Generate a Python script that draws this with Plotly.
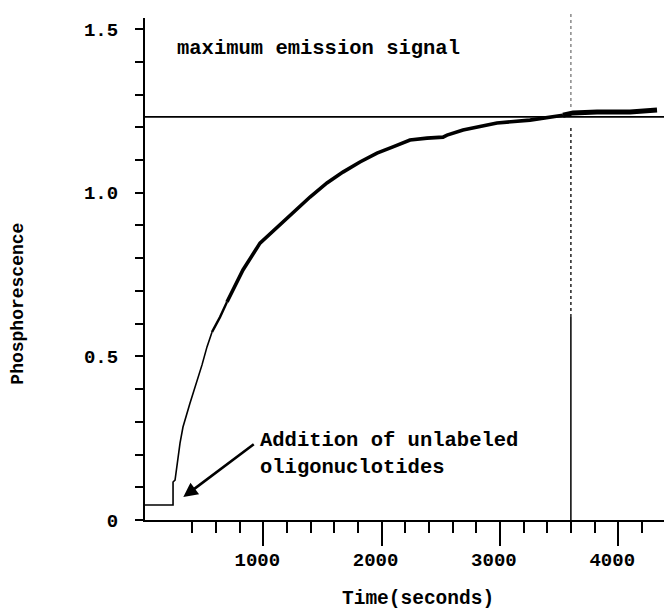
import plotly.graph_objects as go

# ---- data ----
time_s = [0, 237, 237, 254, 296, 321, 380, 423, 482, 524, 566, 634, 693,
          761, 828, 972, 1116, 1251, 1395, 1538, 1673, 1817, 1961, 2096,
          2240, 2384, 2519, 2553, 2688, 2975, 3254, 3533, 3618, 3821, 4100, 4328]
phosphorescence = [0.046, 0.046, 0.116, 0.122, 0.235, 0.284, 0.357, 0.406, 0.474,
                   0.529, 0.574, 0.620, 0.666, 0.718, 0.764, 0.846, 0.895, 0.941,
                   0.987, 1.030, 1.063, 1.094, 1.121, 1.140, 1.161, 1.167, 1.170,
                   1.176, 1.192, 1.213, 1.222, 1.237, 1.244, 1.247, 1.247, 1.253]

max_signal = 1.232          # "maximum emission signal" level
event_time = 3600           # vertical marker
addition_time = 324         # arrow tip: addition of unlabeled oligonucleotides
addition_level = 0.070

x_major = [1000, 2000, 3000, 4000]
x_major_text = ["1000", "2000", "3000", "4000"]
x_minor = [400, 600, 800, 1200, 1400, 1600, 1800, 2200, 2400, 2600, 2800,
           3200, 3400, 3600, 3800, 4200]
y_major = [0, 0.5, 1.0, 1.5]
y_major_text = ["0", "0.5", "1.0", "1.5"]
y_minor = [0.1, 0.2, 0.3, 0.4, 0.6, 0.7, 0.8, 0.9, 1.1, 1.2, 1.3, 1.4]

FONT = "Liberation Mono"

fig = go.Figure()

# thin early rise, thicker noisy plateau, thickest end
i0 = time_s.index(566)
i1 = time_s.index(693)
i2 = time_s.index(3533)
fig.add_trace(go.Scatter(x=time_s[:i0 + 1], y=phosphorescence[:i0 + 1], mode="lines",
                         line=dict(color="black", width=1.6), showlegend=False))
fig.add_trace(go.Scatter(x=time_s[i0:i1 + 1], y=phosphorescence[i0:i1 + 1], mode="lines",
                         line=dict(color="black", width=2.4), showlegend=False))
fig.add_trace(go.Scatter(x=time_s[i1:i2 + 1], y=phosphorescence[i1:i2 + 1], mode="lines",
                         line=dict(color="black", width=3.6), showlegend=False))
fig.add_trace(go.Scatter(x=time_s[i2:], y=phosphorescence[i2:], mode="lines",
                         line=dict(color="black", width=5), showlegend=False))

# maximum emission level line
fig.add_shape(type="line", xref="x", yref="y", x0=0, x1=4387, y0=max_signal, y1=max_signal,
              line=dict(color="black", width=1.6))
# vertical marker at event_time
fig.add_shape(type="line", xref="x", yref="y", x0=event_time, x1=event_time, y0=0, y1=0.62,
              line=dict(color="black", width=1.5))
fig.add_shape(type="line", xref="x", yref="y", x0=event_time, x1=event_time, y0=0.62, y1=1.2,
              line=dict(color="#222222", width=1.5, dash="dot"))
fig.add_shape(type="line", xref="x", yref="paper", x0=event_time, x1=event_time,
              y0=(max_signal + 0.03) / 1.534, y1=1.012,
              line=dict(color="#777777", width=1.3, dash="dot"))

# annotations
fig.add_annotation(x=254, y=1.442, xref="x", yref="y", text="maximum emission signal",
                   showarrow=False, xanchor="left", yanchor="middle",
                   font=dict(family=FONT, size=20.5, color="black", weight="bold"))
fig.add_annotation(x=955, y=0.202, xref="x", yref="y",
                   text="Addition of unlabeled<br>oligonuclotides",
                   showarrow=False, xanchor="left", yanchor="middle", align="left",
                   font=dict(family=FONT, size=20.5, color="black", weight="bold"))
fig.add_annotation(x=addition_time, y=addition_level, xref="x", yref="y",
                   ax=932, ay=0.235, axref="x", ayref="y", text="",
                   showarrow=True, arrowhead=2, arrowsize=1.1, arrowwidth=2.6,
                   arrowcolor="black")
fig.add_annotation(x=-0.2437, y=0.430, xref="paper", yref="paper", text="Phosphorescence",
                   textangle=-90, showarrow=False, xanchor="center", yanchor="middle",
                   font=dict(family=FONT, size=18, color="black", weight="bold"))
fig.add_annotation(x=0.526, y=-0.158, xref="paper", yref="paper", text="Time(seconds)",
                   showarrow=False, xanchor="center", yanchor="middle",
                   font=dict(family=FONT, size=19.5, color="black", weight="bold"))

fig.update_layout(
    width=664, height=611,
    margin=dict(l=145, r=0, t=18, b=91),
    paper_bgcolor="white", plot_bgcolor="white",
    showlegend=False,
    xaxis=dict(range=[0, 4387], showgrid=False, zeroline=False,
               showline=True, linecolor="black", linewidth=2,
               ticks="outside", tickvals=x_major, ticktext=x_major_text,
               ticklen=24, tickwidth=2, tickcolor="black",
               ticklabelstandoff=-3, ticklabelshift=-6,
               tickfont=dict(family=FONT, size=19, color="black", weight="bold"),
               minor=dict(tickvals=x_minor, ticks="outside", ticklen=11, tickwidth=1.5,
                          tickcolor="black", showgrid=False)),
    yaxis=dict(range=[0, 1.534], showgrid=False, zeroline=False,
               showline=True, linecolor="black", linewidth=2,
               ticks="outside", tickvals=y_major, ticktext=y_major_text,
               ticklen=8, tickwidth=1.5, tickcolor="black",
               ticklabelstandoff=13,
               tickfont=dict(family=FONT, size=19, color="black", weight="bold"),
               minor=dict(tickvals=y_minor, ticks="outside", ticklen=8, tickwidth=1.5,
                          tickcolor="black", showgrid=False)),
)

fig.write_html("out.html", config={"displayModeBar": False},
               post_script="document.body.style.margin='0';")
